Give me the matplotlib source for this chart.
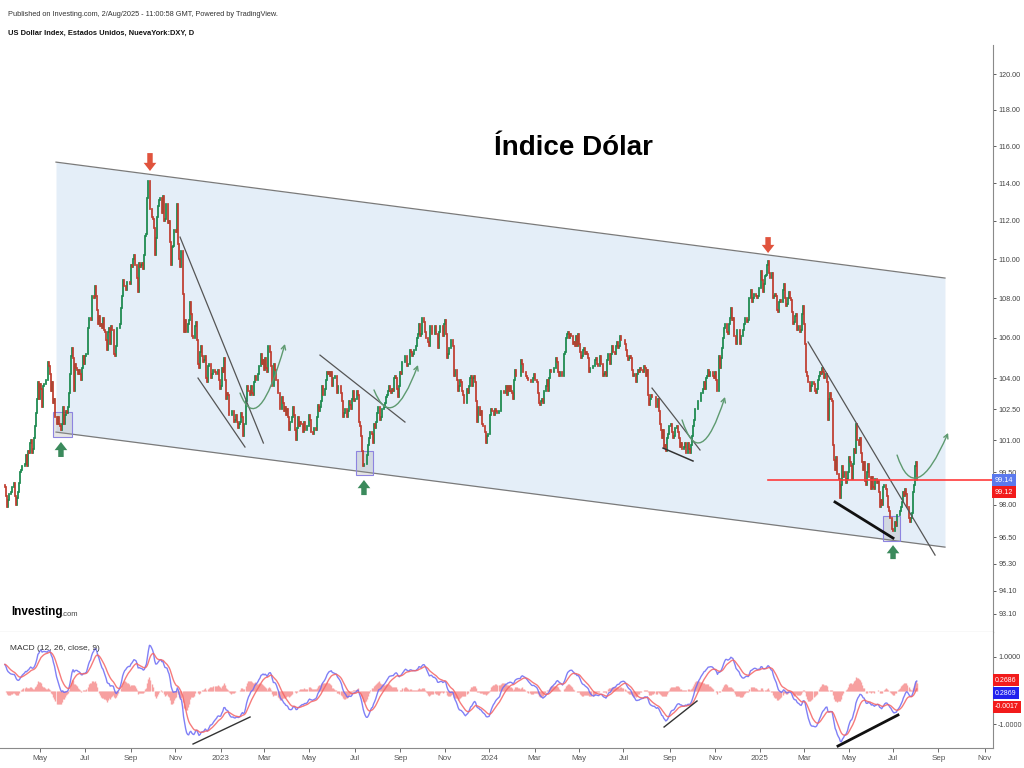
import numpy as np
import pandas as pd
import matplotlib
matplotlib.use('Agg')
import matplotlib.pyplot as plt
from matplotlib.path import Path
from matplotlib.patches import FancyArrowPatch, Rectangle
from matplotlib.ticker import NullLocator, NullFormatter

plt.rcParams['font.family'] = ['Liberation Sans', 'DejaVu Sans']

# DXY daily closes, one inner list per month (2022 starts on 15 March)
first_month = '2022-03'
first_open = 98.9

close_2022 = [
    [98.8, 98.4, 97.9, 98.2, 98.5, 98.5, 98.6, 98.8, 98.8, 99.0, 98.4, 98.0, 98.3],
    [98.6, 99.0, 99.5, 99.6, 99.8, 99.8, 99.9, 100.3, 99.8, 100.5, 100.4, 100.9, 101.0, 100.4, 100.6, 101.1,
     101.7, 102.3, 103.0, 103.8, 103.0],
    [103.7, 103.5, 102.6, 103.6, 103.7, 103.7, 103.9, 103.9, 104.8, 104.6, 104.2, 103.4, 103.8, 102.8, 103.0,
     102.1, 101.8, 102.1, 101.8, 101.7, 101.5, 101.8],
    [102.6, 101.8, 102.2, 102.4, 102.3, 102.6, 103.3, 104.2, 105.1, 105.5, 105.0, 103.4, 104.7, 104.5, 104.4,
     104.2, 104.4, 104.2, 103.9, 104.5, 105.1, 104.7],
    [105.1, 105.2, 106.5, 107.0, 107.0, 106.9, 108.1, 108.1, 108.0, 108.6, 108.1, 107.4, 106.7, 107.1, 106.6,
     106.7, 106.5, 107.0, 106.4, 106.3, 105.9],
    [105.4, 106.3, 106.5, 105.7, 106.6, 106.4, 106.4, 105.2, 105.1, 105.6, 106.5, 106.5, 106.7, 107.5, 108.1,
     108.9, 108.6, 108.6, 108.4, 108.8, 108.8, 108.8, 108.7],
    [109.7, 109.6, 110.0, 110.2, 109.7, 109.7, 109.0, 108.3, 109.8, 109.6, 109.7, 109.8, 109.5, 110.2, 111.2,
     111.3, 113.2, 114.1, 114.1, 112.6, 112.2, 112.1],
    [111.6, 110.2, 111.1, 112.2, 112.8, 113.1, 113.2, 113.2, 112.4, 113.3, 112.0, 112.1, 112.9, 112.9, 111.9,
     112.0, 110.9, 109.7, 110.6, 110.7, 111.5],
    [111.5, 111.4, 112.9, 110.8, 110.0, 109.6, 110.4, 108.2, 106.3, 106.9, 106.3, 106.3, 106.7, 106.9, 107.8,
     107.2, 106.1, 106.0, 106.0, 106.6, 106.8, 105.9],
    [104.7, 104.5, 105.3, 105.6, 105.1, 104.8, 104.9, 105.1, 104.0, 103.8, 104.6, 104.7, 104.7, 104.0, 104.2,
     104.4, 104.3, 104.2, 104.2, 104.4, 103.9, 103.5],
]

close_2023 = [
    [103.6, 104.5, 104.3, 105.0, 103.9, 103.0, 103.3, 103.2, 102.2, 102.2, 102.2, 102.4, 102.4, 101.9, 102.0,
     102.2, 101.9, 101.6, 101.8, 101.9, 102.3, 102.1],
    [101.2, 101.8, 102.9, 103.6, 103.4, 103.4, 103.2, 103.6, 103.3, 103.2, 103.8, 104.1, 103.9, 103.9, 104.2,
     104.6, 104.6, 105.2, 104.7, 104.9],
    [104.4, 105.0, 104.5, 104.3, 105.6, 105.6, 105.3, 104.6, 103.6, 103.6, 104.7, 104.4, 103.9, 103.3, 103.3,
     102.5, 102.5, 103.1, 102.8, 102.4, 102.6, 102.2, 102.5],
    [102.1, 101.5, 101.9, 101.9, 102.1, 102.6, 102.2, 101.5, 101.0, 101.6, 102.1, 101.7, 101.9, 101.8, 101.8,
     101.4, 101.9, 101.5, 101.5, 101.7],
    [102.2, 102.0, 101.4, 101.4, 101.3, 101.6, 101.6, 101.5, 102.1, 102.7, 102.4, 102.6, 102.9, 103.6, 103.2,
     103.2, 103.5, 103.9, 104.3, 104.2, 104.3, 104.1, 104.3],
    [103.6, 104.0, 104.0, 104.1, 104.1, 103.3, 103.6, 103.6, 103.3, 102.9, 102.1, 102.3, 102.5, 102.5, 102.1,
     102.4, 102.9, 102.7, 102.5, 103.0, 103.4, 102.9],
    [103.0, 103.0, 103.4, 103.2, 101.9, 101.7, 101.2, 100.5, 99.8, 99.9, 99.9, 99.9, 100.3, 100.8, 101.1,
     101.4, 101.3, 100.9, 101.8, 101.6, 101.9],
    [102.3, 102.6, 102.6, 102.0, 102.1, 102.5, 102.5, 102.6, 102.8, 103.1, 103.2, 103.4, 103.6, 103.4, 103.3,
     103.5, 103.4, 104.0, 104.1, 104.0, 103.5, 103.1, 103.6],
    [104.3, 104.2, 104.8, 104.8, 105.1, 105.1, 104.6, 104.7, 104.7, 105.4, 105.3, 105.1, 105.2, 105.4, 105.4,
     105.6, 106.0, 106.2, 106.7, 106.1, 106.2],
    [107.0, 107.0, 106.8, 106.3, 106.0, 106.0, 105.8, 105.6, 106.6, 106.6, 106.2, 106.2, 106.6, 106.2, 106.2,
     105.5, 106.3, 106.6, 106.6, 106.6, 106.1, 106.7],
    [106.9, 106.2, 105.0, 105.2, 105.5, 105.5, 105.9, 105.9, 105.6, 104.1, 104.4, 104.4, 103.9, 103.4, 103.6,
     103.9, 103.8, 103.4, 103.2, 102.8, 102.8, 103.5],
    [103.3, 103.6, 104.0, 104.1, 103.6, 104.0, 104.1, 103.8, 102.9, 101.9, 102.6, 102.6, 102.2, 102.4, 101.8,
     101.7, 101.7, 101.4, 100.9, 101.2, 101.3],
]

close_2024 = [
    [101.3, 102.2, 102.5, 102.4, 102.4, 102.2, 102.5, 102.4, 102.3, 102.4, 102.4, 103.4, 103.4, 103.4, 103.3,
     103.3, 103.6, 103.2, 103.6, 103.4, 103.6, 103.4, 103.3],
    [103.0, 103.9, 104.4, 104.1, 104.1, 104.1, 104.1, 104.1, 104.9, 104.7, 104.3, 104.3, 104.3, 104.1, 104.0,
     103.9, 103.9, 103.8, 103.8, 104.0, 104.2],
    [103.9, 103.9, 103.8, 103.3, 102.8, 102.7, 102.9, 103.0, 102.8, 103.4, 103.4, 103.6, 103.9, 103.4, 104.0,
     104.4, 104.3, 104.3, 104.3, 104.5, 104.5],
    [105.0, 104.8, 104.3, 104.1, 104.3, 104.1, 104.1, 105.2, 105.3, 106.0, 106.2, 106.3, 106.0, 106.2, 106.1,
     106.1, 105.7, 105.8, 105.6, 106.1, 105.6, 106.2],
    [105.7, 105.3, 105.0, 105.1, 105.4, 105.5, 105.2, 105.3, 105.2, 105.0, 104.3, 104.5, 104.5, 104.6, 104.6,
     104.9, 105.0, 104.7, 104.6, 104.6, 105.1, 104.7, 104.7],
    [104.1, 104.2, 104.3, 104.1, 104.9, 105.2, 105.2, 104.7, 105.2, 105.6, 105.3, 105.3, 105.2, 105.6, 105.8,
     105.5, 105.6, 106.1, 105.9, 105.9],
    [105.9, 105.7, 105.4, 105.1, 104.9, 105.0, 105.1, 105.0, 104.4, 104.1, 104.2, 104.2, 103.8, 104.2, 104.4,
     104.3, 104.5, 104.4, 104.4, 104.3, 104.6, 104.5, 104.1],
    [104.4, 103.2, 102.7, 103.0, 103.2, 103.1, 103.1, 103.1, 102.6, 102.6, 103.0, 102.4, 101.8, 101.5, 101.1,
     101.5, 100.7, 100.8, 100.5, 101.1, 101.3, 101.7],
    [101.7, 101.8, 101.4, 101.1, 101.2, 101.6, 101.6, 101.7, 101.4, 101.1, 100.7, 100.9, 100.6, 100.6, 100.7,
     100.9, 100.4, 100.9, 100.6, 100.4, 100.8],
    [101.2, 101.7, 102.0, 102.5, 102.5, 102.5, 102.9, 102.9, 102.9, 103.3, 103.3, 103.5, 103.8, 103.5, 104.0,
     104.1, 104.4, 104.1, 104.3, 104.3, 104.3, 104.1, 104.0],
    [104.3, 103.9, 103.4, 105.1, 104.5, 105.0, 105.5, 106.0, 106.5, 106.7, 106.7, 106.3, 106.2, 106.7, 107.0,
     107.5, 106.9, 107.0, 106.1, 106.1, 105.7],
    [106.4, 106.4, 106.4, 105.7, 106.1, 106.1, 106.4, 106.7, 107.0, 107.0, 106.8, 106.9, 108.0, 108.4, 107.8,
     108.0, 108.2, 108.2, 108.1, 108.0, 108.1, 108.5],
]

close_2025 = [
    [108.5, 109.4, 108.9, 108.3, 108.7, 109.1, 109.2, 109.7, 109.9, 109.3, 109.0, 109.0, 109.3, 108.0, 108.1,
     108.2, 108.1, 107.4, 107.3, 107.8, 107.9, 107.8, 108.4],
    [108.7, 108.0, 107.6, 107.7, 108.0, 108.3, 108.0, 107.9, 107.3, 106.7, 106.8, 107.1, 107.2, 106.4, 106.6,
     106.6, 106.3, 106.4, 107.2, 107.6],
    [106.7, 105.7, 104.3, 104.1, 103.8, 103.8, 103.4, 103.6, 103.8, 103.7, 103.4, 103.3, 103.5, 103.9, 104.1,
     104.3, 104.2, 104.5, 104.3, 104.0, 104.2],
    [104.2, 103.8, 102.0, 103.0, 103.3, 103.0, 102.9, 100.8, 100.1, 99.6, 100.2, 99.4, 99.4, 99.2, 98.3,
     98.9, 99.8, 99.3, 99.5, 99.0, 99.2, 99.5],
    [100.2, 100.0, 99.8, 99.2, 99.9, 100.6, 100.4, 101.8, 101.0, 101.0, 100.8, 101.1, 100.4, 100.0, 99.6,
     100.0, 99.1, 98.9, 99.5, 99.9, 99.3, 99.3],
    [98.7, 99.3, 98.8, 98.7, 99.2, 99.0, 99.1, 98.6, 97.9, 98.2, 98.0, 98.8, 98.9, 98.9, 98.7,
     98.4, 97.9, 97.7, 97.4, 97.4, 96.9],
    [96.8, 96.8, 97.2, 97.0, 97.5, 97.5, 97.5, 97.7, 97.9, 98.1, 98.6, 98.4, 98.7, 98.5, 97.9,
     97.4, 97.2, 97.4, 97.6, 98.6, 98.9, 99.8, 99.97],
    [99.14],
]

# MACD (12, 26, 9) starting EMA values carried in from before the visible range
ema_fast_seed = 98.35
ema_slow_seed = 97.55
signal_seed = 0.78

price_ticks = [120.0, 118.0, 116.0, 114.0, 112.0, 110.0, 108.0, 106.0, 104.0, 102.5, 101.0, 99.5,
               98.0, 96.5, 95.3, 94.1, 93.1]
last_price = 99.14
prev_label = '99.12'

# ---------------------------------------------------------------- prepare
months = close_2022 + close_2023 + close_2024 + close_2025
closes = np.concatenate([np.array(m, dtype=float) for m in months])
opens = np.r_[first_open, closes[:-1]]
x = np.arange(len(closes))
periods = pd.period_range(first_month, periods=len(months), freq='M')
month_idx = list(np.cumsum([0] + [len(m) for m in months[:-1]]))
month_per = list(periods)

# months to come (empty right part of the chart)
future_days = pd.bdate_range('2025-08-04', '2025-11-28')
for p in pd.period_range('2025-09', '2025-11', freq='M'):
    month_idx.append(len(closes) + int(np.argmax(future_days.month == p.month)))
    month_per.append(p)

tick_pos, tick_lab = [], []
for i, (pos, p) in enumerate(zip(month_idx, month_per)):
    if i == 0 or p.month % 2 == 0:
        continue
    tick_pos.append(pos)
    tick_lab.append(str(p.year) if p.month == 1 else p.strftime('%b'))


def ema(values, span, seed):
    a = 2.0 / (span + 1)
    out = np.empty(len(values))
    e = seed
    for i, v in enumerate(values):
        e = e + a * (v - e)
        out[i] = e
    return out


macd = ema(closes, 12, ema_fast_seed) - ema(closes, 26, ema_slow_seed)
signal = ema(macd, 9, signal_seed)
hist = macd - signal

# ---------------------------------------------------------------- figure
fig = plt.figure(figsize=(10.24, 7.68), dpi=100)
ax = fig.add_axes([0, 1 - 632 / 768, 993 / 1024, (632 - 45) / 768])
axm = fig.add_axes([0, 1 - 748 / 768, 993 / 1024, (748 - 632) / 768], sharex=ax)

XL = (-4.73, 956.8)
green, red = '#17874b', '#bf3a2c'

# channel
ch_x = [49.5, 910.3]
ch_hi = [115.13, 109.02]
ch_lo = [101.40, 96.06]
ax.fill_between(ch_x, ch_lo, ch_hi, color='#e4eef8', zorder=0, lw=0)
ax.plot(ch_x, ch_hi, color='#7a7a7a', lw=0.9, zorder=1)
ax.plot(ch_x, ch_lo, color='#7a7a7a', lw=0.9, zorder=1)

# candles
up = closes >= opens
ax.vlines(x[up], opens[up], closes[up], color=green, lw=1.25, capstyle='projecting', zorder=3)
ax.vlines(x[~up], opens[~up], closes[~up], color=red, lw=1.25, capstyle='projecting', zorder=3)

# trend lines
for (x0, y0), (x1, y1) in [((169.6, 111.14), (250.3, 100.88)),
                           ((187.0, 104.01), (232.5, 100.69)),
                           ((305.1, 105.14), (387.4, 101.88)),
                           ((626.6, 103.52), (673.1, 100.55)),
                           ((777.7, 105.79), (900.7, 95.70))]:
    ax.plot([x0, x1], [y0, y1], color='#555555', lw=0.9, zorder=4)
ax.plot([637.3, 666.3], [100.64, 100.03], color='#333333', lw=1.1, zorder=4)
ax.plot([803.8, 860.0], [98.12, 96.47], color='#111111', lw=2.0, zorder=4)

# curved projection arrows
for p0, p1, p2 in [((227.7, 103.28), (245.1, 101.02), (271.2, 105.69)),
                   ((357.4, 103.43), (374.9, 101.26), (400.0, 104.65)),
                   ((655.7, 101.98), (673.1, 99.37), (697.3, 103.09)),
                   ((863.9, 100.31), (881.3, 97.75), (913.3, 101.36))]:
    path = Path([p0, p1, p2], [Path.MOVETO, Path.CURVE3, Path.CURVE3])
    arr = FancyArrowPatch(path=path, arrowstyle='->,head_length=3,head_width=1.6',
                          color='#5e9a70', lw=1.0, transform=ax.transData, zorder=5)
    ax.add_patch(arr)

# highlighted boxes
for (bx0, bx1), (by0, by1) in [((46.6, 65.0), (101.17, 102.36)),
                               ((340.0, 356.5), (99.37, 100.50)),
                               ((850.3, 866.8), (96.33, 97.47))]:
    ax.add_patch(Rectangle((bx0, by0), bx1 - bx0, by1 - by0, fc=(0.6, 0.6, 0.6, 0.25),
                           ec='#8d84e0', lw=0.8, zorder=2))

# block arrows
arrow_style = 'simple,head_length=0.42,head_width=0.65,tail_width=0.28'
for (ax_x, tail, tip), col in [((140.5, 115.62, 114.65), '#e0533d'),
                               ((739.0, 111.14, 110.31), '#e0533d'),
                               ((54.3, 100.22, 100.93), '#3b8a5c'),
                               ((347.7, 98.44, 99.14), '#3b8a5c'),
                               ((860.0, 95.52, 96.15), '#3b8a5c')]:
    ax.annotate('', xy=(ax_x, tip), xytext=(ax_x, tail),
                arrowprops=dict(arrowstyle=arrow_style, color=col, lw=0, shrinkA=0, shrinkB=0,
                                mutation_scale=14), zorder=6)

# last price line
ax.plot([739.0, XL[1]], [last_price, last_price], color='#ff3b3b', lw=1.2, zorder=5)

ax.set_yscale('log')
ax.set_ylim(92.30, 121.65)
ax.set_xlim(*XL)
ax.yaxis.tick_right()
ax.set_yticks(price_ticks)
ax.set_yticklabels([f'{t:.2f}' for t in price_ticks])
ax.yaxis.set_minor_locator(NullLocator())
ax.yaxis.set_minor_formatter(NullFormatter())
ax.tick_params(axis='y', labelsize=5.2, colors='#444444', length=2.5, width=0.6, pad=1.2)
ax.tick_params(axis='x', bottom=False, labelbottom=False)
for s in ['left', 'top']:
    ax.spines[s].set_visible(False)
for s in ['right', 'bottom']:
    ax.spines[s].set_color('#8a8a8a')
    ax.spines[s].set_linewidth(0.8)

ylab = ax.get_yaxis_transform()
ax.text(1.002, last_price, f'{last_price:.2f}', transform=ylab, fontsize=5.2, color='white',
        ha='left', va='center', zorder=10, clip_on=False,
        bbox=dict(boxstyle='square,pad=0.35', fc='#5b79ee', ec='none'))
ax.text(1.002, 98.58, prev_label, transform=ylab, fontsize=5.2, color='white',
        ha='left', va='center', zorder=10, clip_on=False,
        bbox=dict(boxstyle='square,pad=0.35', fc='#f21b1b', ec='none'))

# ---------------------------------------------------------------- MACD panel
axm.vlines(x, 0, hist, color='#f7a0a0', lw=1.0, zorder=1)
axm.plot(x, macd, color='#6a6af5', lw=1.0, alpha=0.85, zorder=2)
axm.plot(x, signal, color='#f56464', lw=1.0, alpha=0.85, zorder=2)
axm.plot([182.2, 237.4], [-1.597, -0.791], color='#333333', lw=1.0, zorder=3)
axm.plot([638.3, 670.2], [-1.09, -0.313], color='#333333', lw=1.0, zorder=3)
axm.plot([806.7, 864.8], [-1.657, -0.731], color='#111111', lw=2.0, zorder=3)

axm.set_ylim(-1.716, 1.746)
axm.yaxis.tick_right()
axm.set_yticks([1.0, -1.0])
axm.set_yticklabels(['1.0000', '-1.0000'])
axm.tick_params(axis='y', labelsize=5.2, colors='#444444', length=2.5, width=0.6, pad=1.2)
axm.set_xticks(tick_pos)
axm.set_xticklabels(tick_lab)
axm.tick_params(axis='x', labelsize=5.8, colors='#555555', length=3, width=0.6, pad=2)
for s in ['left', 'top']:
    axm.spines[s].set_visible(False)
for s in ['right', 'bottom']:
    axm.spines[s].set_color('#8a8a8a')
    axm.spines[s].set_linewidth(0.8)
axm.set_xlim(*XL)

mlab = axm.get_yaxis_transform()
for yv, txt, fc in [(0.313, '0.2686', '#f21b1b'), (-0.075, '0.2869', '#2222ee'), (-0.49, '-0.0017', '#f21b1b')]:
    axm.text(1.002, yv, txt, transform=mlab, fontsize=5.0, color='white', ha='left', va='center',
             clip_on=False, zorder=10, bbox=dict(boxstyle='square,pad=0.3', fc=fc, ec='none'))
axm.text(0.01, 0.86, 'MACD (12, 26, close, 9)', transform=axm.transAxes, fontsize=6.0,
         color='#333333', ha='left', va='center')

# ---------------------------------------------------------------- texts
fig.text(8 / 1024, 1 - 14 / 768, 'Published on Investing.com, 2/Aug/2025 - 11:00:58 GMT, Powered by TradingView.',
         fontsize=5.3, color='#333333', ha='left', va='center')
fig.text(8 / 1024, 1 - 33 / 768, 'US Dollar Index, Estados Unidos, NuevaYork:DXY, D',
         fontsize=5.4, color='#111111', fontweight='bold', ha='left', va='center')
fig.text(573 / 1024, 1 - 148 / 768, 'Índice Dólar', fontsize=20, fontweight='bold',
         color='black', ha='center', va='center')
fig.text(11 / 1024, 1 - 612 / 768, 'Investing', fontsize=8.5, fontweight='bold', color='black',
         ha='left', va='center')
fig.text(61 / 1024, 1 - 614 / 768, '.com', fontsize=5.5, color='#444444', ha='left', va='center')

fig.savefig('out.png', dpi=100, facecolor='white')
